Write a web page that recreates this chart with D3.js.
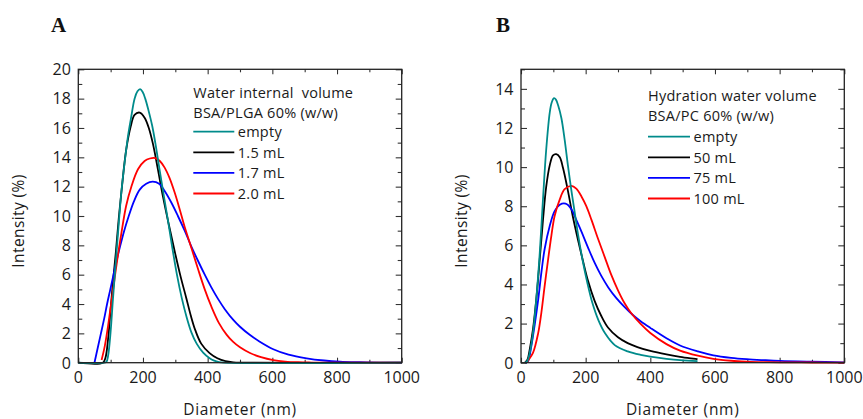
<!DOCTYPE html>
<html><head><meta charset="utf-8">
<script src="https://cdn.jsdelivr.net/npm/d3@7"></script>
<style>body{margin:0;background:#fff}</style>
</head><body><svg id="c" width="863" height="419"></svg>
<script>
// ---------- data ----------
const xTicks = [0, 200, 400, 600, 800, 1000];
const yTicksA = [0, 2, 4, 6, 8, 10, 12, 14, 16, 18, 20];
const yTicksB = [0, 2, 4, 6, 8, 10, 12, 14];
const seriesColors = ["#008b8b", "#000000", "#0000ff", "#ff0000"];

const legendTitleA = ["Water internal  volume", "BSA/PLGA 60% (w/w)"];
const legendLabelsA = ["empty", "1.5 mL", "1.7 mL", "2.0 mL"];
const legendTitleB = ["Hydration water volume", "BSA/PC 60% (w/w)"];
const legendLabelsB = ["empty", "50 mL", "75 mL", "100 mL"];

// Panel A: [diameter nm, intensity %]
const A_empty = [[0,0],[80,0],[87,0.05],[92,0.45],[99.7,2.05],[107,4.3],[115,6.6],[123,8.9],[133,11.6],[143,13.6],[154,15.5],[164,16.8],[174,18.0],[183,18.5],[191,18.65],[199,18.45],[207,18.0],[217,17.2],[228,16.2],[238,15.0],[251,13.2],[265,11.3],[278,9.6],[291,7.8],[305,6.0],[320,4.4],[335,3.1],[350,2.05],[366,1.3],[386,0.68],[405,0.32],[420,0.14],[435,0.04],[450,0],[1000,0]];
const A_15 = [[0,0],[76,0],[84,0.34],[92,1.6],[99,3.4],[107,5.45],[116,7.5],[125,9.8],[135,12.0],[148,14.5],[162,16.1],[174,16.9],[190,17.05],[205,16.7],[218,16.0],[231,14.9],[246,13.2],[262,11.3],[280,9.4],[298,7.6],[316,5.9],[334,4.4],[348,3.2],[362,2.2],[380,1.3],[406,0.65],[430,0.3],[455,0.1],[480,0.02],[500,0],[1000,0]];
const A_17 = [[50,0],[60,1.0],[70,2.0],[80,3.0],[89,4.0],[99,5.0],[109,6.0],[119,7.0],[130,8.0],[142,9.0],[156,10.0],[172,11.0],[190,11.8],[210,12.2],[230,12.34],[250,12.2],[267,11.7],[288,10.9],[308,10.0],[329,9.0],[350,7.9],[370,6.95],[391,6.0],[411,5.15],[432,4.35],[453,3.65],[480,2.9],[500,2.45],[530,1.9],[560,1.45],[603,0.92],[650,0.55],[706,0.3],[760,0.15],[809,0.07],[870,0.03],[930,0.01],[1000,0]];
const A_20 = [[72,0.18],[82,1.15],[92,2.5],[102,4.1],[112,5.7],[123,7.4],[133,8.8],[148,10.7],[164,12.0],[185,13.2],[205,13.75],[221,13.92],[238,13.95],[252,13.75],[267,13.3],[282,12.6],[298,11.6],[313,10.5],[329,9.25],[350,7.8],[370,6.4],[391,5.0],[411,3.85],[435,2.7],[459,1.9],[479,1.42],[500,1.05],[531,0.66],[565,0.38],[603,0.18],[640,0.08],[680,0.03],[720,0.01],[760,0],[1000,0]];

// Panel B
const B_empty = [[13,0],[20,0.1],[27,0.5],[37,1.5],[47,3.2],[58,5.6],[68,8.35],[78,10.9],[89,12.8],[95,13.3],[102,13.52],[108,13.45],[115,13.15],[125,12.5],[135,11.4],[145,10.1],[155,8.9],[166,7.7],[176,6.6],[191,5.2],[205,4.1],[220,3.1],[240,2.15],[260,1.5],[290,0.9],[330,0.58],[370,0.4],[400,0.31],[450,0.2],[492,0.13],[546,0.08]];
const B_50 = [[12,0],[20,0.15],[27,0.68],[37,1.7],[47,3.2],[58,5.3],[68,7.3],[78,9.0],[89,10.1],[99,10.6],[109,10.66],[120,10.5],[130,9.95],[145,8.8],[160,7.5],[176,6.3],[191,5.25],[207,4.2],[228,3.15],[248,2.4],[269,1.8],[300,1.3],[330,1.0],[360,0.8],[400,0.6],[450,0.42],[492,0.3],[546,0.18]];
const B_75 = [[15,0],[22,0.09],[32,0.85],[42,1.9],[53,3.2],[63,4.6],[73,5.8],[89,7.0],[104,7.75],[120,8.08],[138,8.13],[156,7.85],[171,7.3],[187,6.7],[207,5.9],[228,5.1],[248,4.45],[270,3.85],[295,3.3],[320,2.85],[345,2.45],[370,2.12],[400,1.78],[450,1.25],[492,0.88],[547,0.58],[595,0.38],[650,0.25],[698,0.18],[750,0.13],[801,0.09],[900,0.05],[1000,0.02]];
const B_100 = [[18,0],[21,0.09],[37,0.5],[53,1.5],[63,2.56],[73,3.9],[84,5.3],[94,6.5],[104,7.5],[120,8.35],[135,8.87],[156,9.04],[171,8.9],[187,8.5],[202,8.0],[218,7.3],[238,6.35],[259,5.4],[279,4.5],[300,3.7],[320,3.05],[340,2.55],[370,1.98],[400,1.52],[450,0.95],[492,0.62],[547,0.36],[595,0.2],[650,0.1],[698,0.055],[750,0.03],[801,0.02],[900,0.01],[1000,0]];

// ---------- drawing ----------
const svg = d3.select("#c");
const FONT = "'Open Sans', sans-serif";
const TXT = "#1a1a1a";

function panel(cfg) {
  const g = svg.append("g");
  const x = d3.scaleLinear().domain([0, 1000]).range([cfg.left, cfg.right]);
  const y = d3.scaleLinear().domain([0, cfg.yMax]).range([cfg.bottom, cfg.top]);
  const minorX = d3.range(0, 1001, 100);
  const minorY = d3.range(0, cfg.yMax + 0.001, 1);

  const mk = (axisGen, tr, vals, len) => {
    const a = g.append("g").attr("transform", tr)
      .call(axisGen.tickValues(vals).tickSize(len).tickFormat(""));
    a.select(".domain").remove();
    a.selectAll("line").attr("stroke", "#333").attr("stroke-width", 1.1);
  };
  const majX = xTicks, majY = cfg.yTicks;
  const minX = minorX.filter(v => !majX.includes(v));
  const minY = minorY.filter(v => !majY.includes(v));
  mk(d3.axisTop(x), `translate(0,${cfg.bottom})`, majX, 5);
  mk(d3.axisTop(x), `translate(0,${cfg.bottom})`, minX, 3);
  mk(d3.axisBottom(x), `translate(0,${cfg.top})`, majX, 5);
  mk(d3.axisBottom(x), `translate(0,${cfg.top})`, minX, 3);
  mk(d3.axisRight(y), `translate(${cfg.left},0)`, majY, 6);
  mk(d3.axisRight(y), `translate(${cfg.left},0)`, minY, 4);
  mk(d3.axisLeft(y), `translate(${cfg.right},0)`, majY, 6);
  mk(d3.axisLeft(y), `translate(${cfg.right},0)`, minY, 4);

  g.append("g").selectAll("text").data(xTicks).join("text")
    .attr("x", d => x(d)).attr("y", cfg.bottom + 20.5)
    .attr("text-anchor", "middle").attr("font-family", FONT)
    .attr("font-size", 16).attr("fill", TXT).text(d => d);
  g.append("g").selectAll("text").data(cfg.yTicks).join("text")
    .attr("x", cfg.left - 7.5).attr("y", d => y(d) + 5.8)
    .attr("text-anchor", "end").attr("font-family", FONT)
    .attr("font-size", 16).attr("fill", TXT).text(d => d);

  const line = d3.line().x(d => x(d[0])).y(d => y(d[1])).curve(d3.curveCatmullRom.alpha(0.5));
  const order = [1, 2, 3, 0];
  order.forEach(i => {
    g.append("path").datum(cfg.series[i]).attr("d", line)
      .attr("fill", "none").attr("stroke", seriesColors[i])
      .attr("stroke-width", 1.8).attr("stroke-linejoin", "round");
  });

  g.append("rect").attr("x", cfg.left).attr("y", cfg.top)
    .attr("width", cfg.right - cfg.left).attr("height", cfg.bottom - cfg.top)
    .attr("fill", "none").attr("stroke", "#222").attr("stroke-width", 1.3);

  cfg.legendTitle.forEach((t, i) => {
    g.append("text").attr("x", cfg.legX).attr("y", cfg.legY + i * 20.2)
      .attr("font-family", FONT).attr("font-size", 14.5).attr("fill", TXT)
      .attr("letter-spacing", 0.25).style("white-space", "pre").text(t);
  });
  cfg.legendLabels.forEach((t, i) => {
    const ly = cfg.legLineY + i * 20.6;
    g.append("line").attr("x1", cfg.legX).attr("x2", cfg.legX + cfg.legLen)
      .attr("y1", ly).attr("y2", ly).attr("stroke", seriesColors[i]).attr("stroke-width", 1.8);
    g.append("text").attr("x", cfg.legX + cfg.legLen + 3.5).attr("y", ly + 5.2)
      .attr("font-family", FONT).attr("font-size", 14.5).attr("fill", TXT)
      .attr("letter-spacing", 0.25).text(t);
  });

  g.append("text").attr("x", (cfg.left + cfg.right) / 2).attr("y", 415)
    .attr("text-anchor", "middle").attr("font-family", FONT).attr("font-size", 15.5)
    .attr("letter-spacing", 0.7).attr("fill", TXT).text("Diameter (nm)");
  g.append("text").attr("transform", `translate(${cfg.left - 54},${(cfg.top + cfg.bottom) / 2 + 5}) rotate(-90)`)
    .attr("text-anchor", "middle").attr("font-family", FONT).attr("font-size", 15.5)
    .attr("letter-spacing", 0.4).attr("fill", TXT).text("Intensity (%)");

  g.append("text").attr("x", cfg.letterX).attr("y", 32)
    .attr("font-family", "'Liberation Serif', serif").attr("font-weight", "bold")
    .attr("font-size", 21).attr("fill", "#111").text(cfg.letter);
}

panel({
  left: 78.3, right: 401.7, top: 69.3, bottom: 362.7, yMax: 20, yTicks: yTicksA,
  series: [A_empty, A_15, A_17, A_20],
  legendTitle: legendTitleA, legendLabels: legendLabelsA,
  legX: 193.3, legY: 97.5, legLineY: 131.7, legLen: 41,
  letter: "A", letterX: 51
});
panel({
  left: 521, right: 844.3, top: 69.3, bottom: 362.7, yMax: 15, yTicks: yTicksB,
  series: [B_empty, B_50, B_75, B_100],
  legendTitle: legendTitleB, legendLabels: legendLabelsB,
  legX: 648, legY: 101, legLineY: 136.7, legLen: 42,
  letter: "B", letterX: 496
});
</script></body></html>
